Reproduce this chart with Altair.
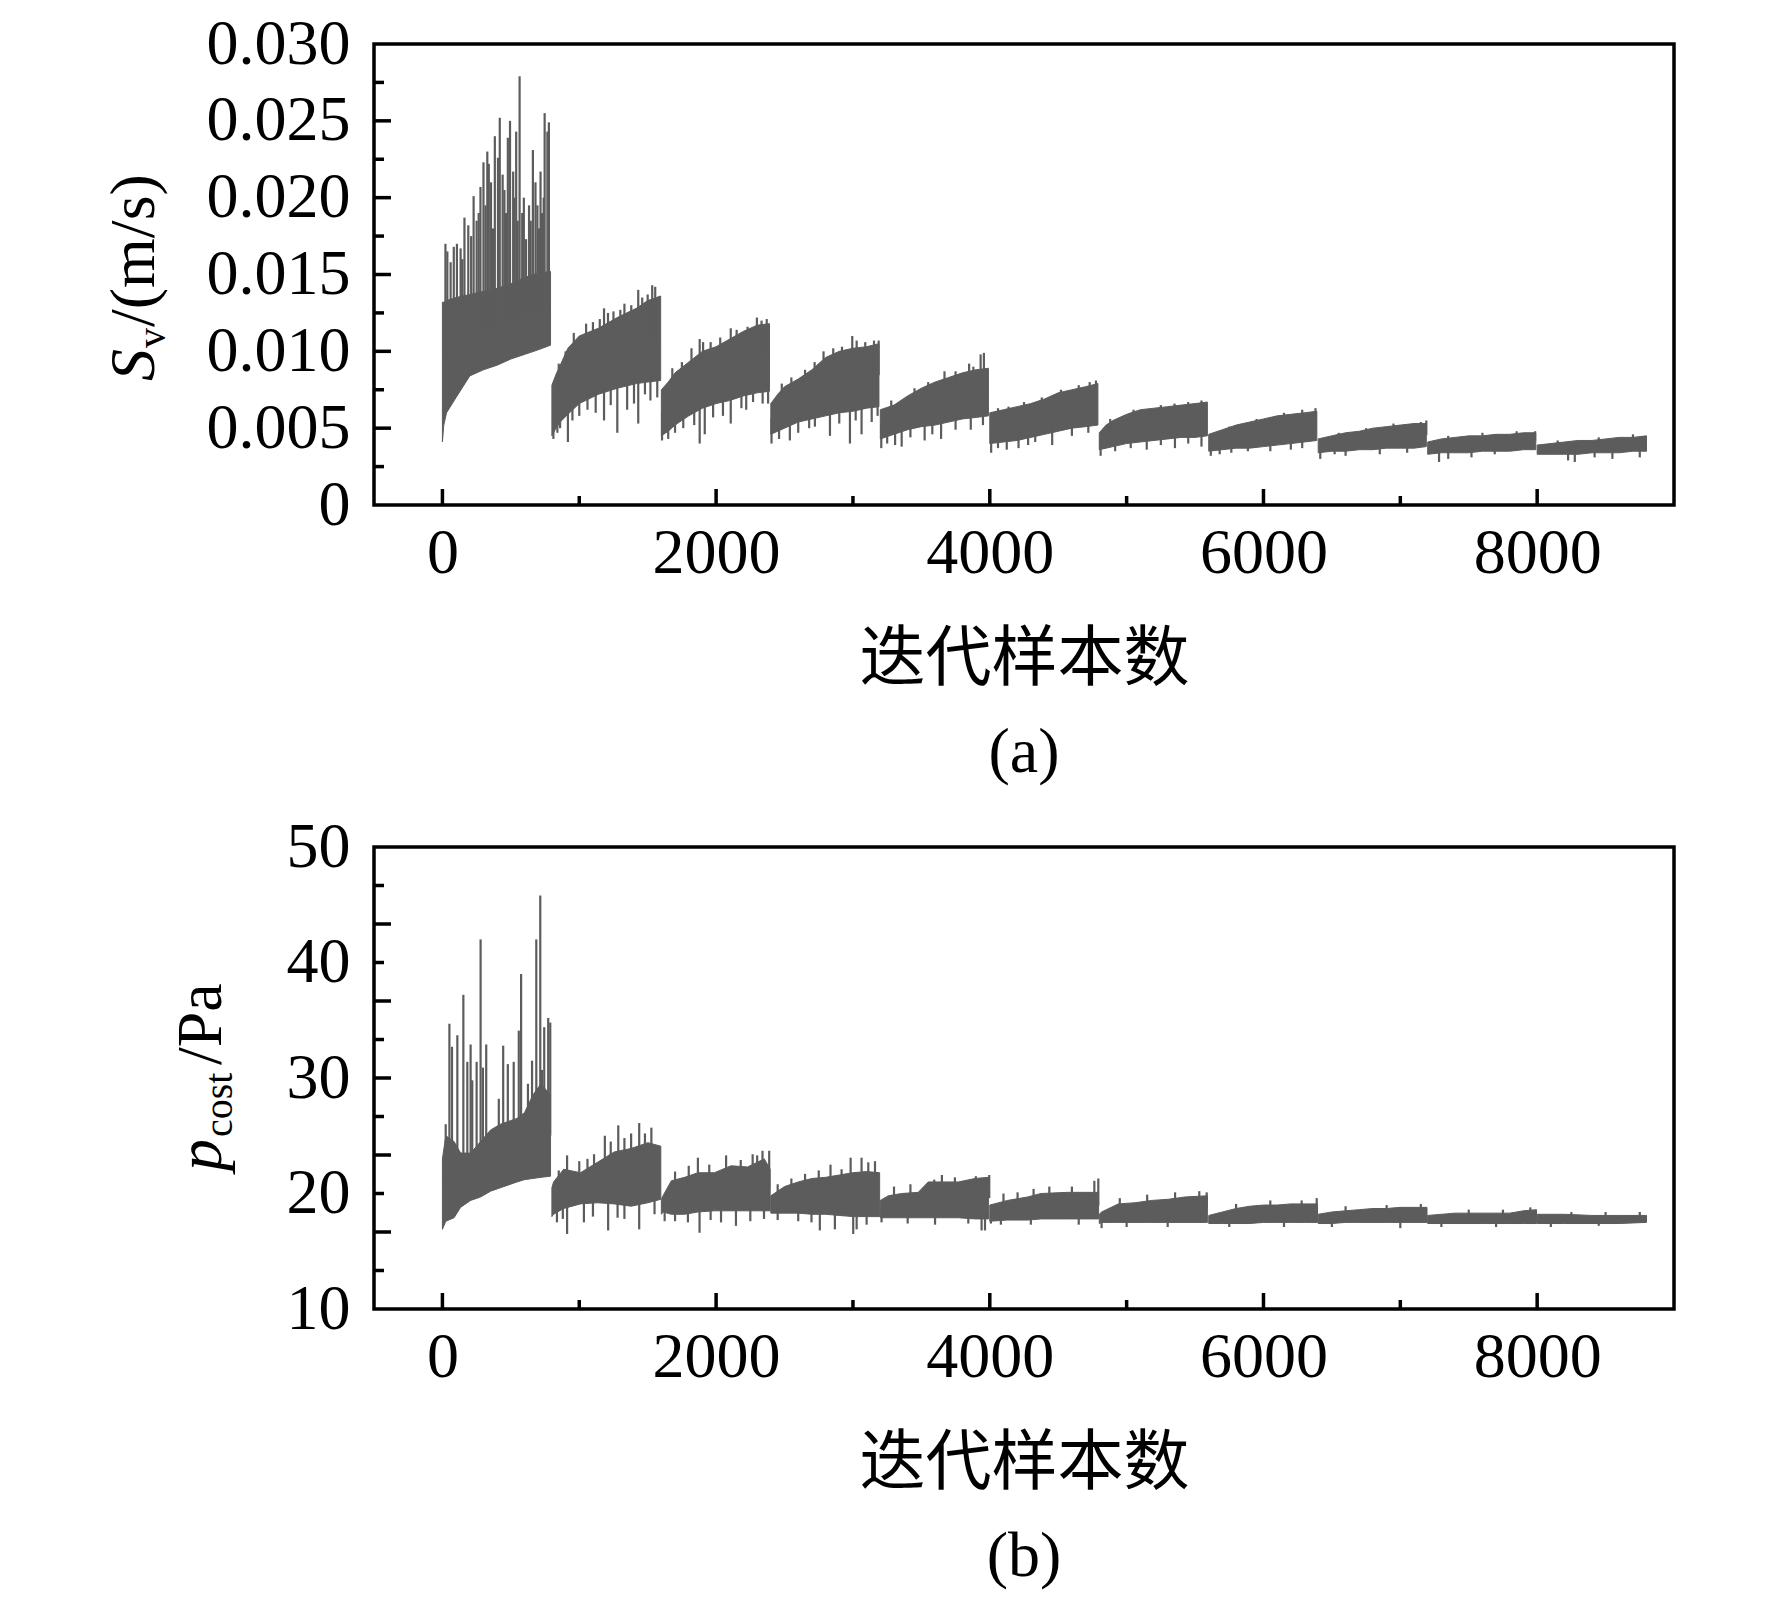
import altair as alt
import numpy as np
import pandas as pd

GRAY = "#5c5c5c"
SERIF = "Liberation Serif"
CJK = "Noto Sans CJK SC"
X_TITLE = "迭代样本数"

# ---------------- panel (a): S_v (m/s) ----------------
A_BAND_X = [0, 10, 30, 100, 200, 300, 400, 500, 600, 700, 790,
            800, 830, 861, 917, 1000, 1139, 1278, 1417, 1500, 1595,
            1600, 1650, 1700, 1800, 1900, 2000, 2100, 2200, 2300, 2390,
            2400, 2450, 2500, 2600, 2700, 2800, 2900, 3000, 3100, 3190,
            3200, 3300, 3400, 3500, 3600, 3700, 3800, 3900, 3990,
            4000, 4100, 4200, 4300, 4400, 4500, 4600, 4700, 4790,
            4800, 4850, 4900, 5000, 5100, 5200, 5300, 5400, 5500, 5590,
            5600, 5700, 5800, 5900, 6000, 6100, 6200, 6300, 6390,
            6400, 6500, 6600, 6700, 6800, 6900, 7000, 7100, 7190,
            7200, 7300, 7400, 7500, 7600, 7700, 7800, 7900, 7990,
            8000, 8100, 8200, 8300, 8400, 8500, 8600, 8700, 8799]
A_BAND_LO = [0.0041, 0.0052, 0.0060, 0.0070, 0.0084, 0.0088, 0.0091, 0.0095, 0.0098, 0.0101, 0.0104,
             0.0045, 0.0050, 0.0054, 0.0059, 0.0066, 0.0072, 0.0076, 0.0079, 0.0080, 0.0081,
             0.0045, 0.0048, 0.0052, 0.0058, 0.0063, 0.0066, 0.0068, 0.0071, 0.0073, 0.0074,
             0.0046, 0.0048, 0.0050, 0.0054, 0.0056, 0.0058, 0.0060, 0.0061, 0.0063, 0.0064,
             0.0043, 0.0046, 0.0049, 0.0051, 0.0052, 0.0054, 0.0056, 0.0057, 0.0058,
             0.0040, 0.0041, 0.0042, 0.0044, 0.0046, 0.0048, 0.0050, 0.0051, 0.0052,
             0.0036, 0.0037, 0.0038, 0.0040, 0.0041, 0.0042, 0.0043, 0.0044, 0.0044, 0.0045,
             0.0035, 0.0036, 0.0037, 0.0037, 0.0038, 0.0039, 0.0040, 0.0041, 0.0042,
             0.0034, 0.0035, 0.0035, 0.0036, 0.0036, 0.0037, 0.0037, 0.0037, 0.0038,
             0.0033, 0.0034, 0.0034, 0.0034, 0.0035, 0.0035, 0.0035, 0.0036, 0.0036,
             0.0033, 0.0033, 0.0033, 0.0033, 0.0034, 0.0034, 0.0034, 0.0035, 0.0035]
A_BAND_HI = [0.0132, 0.0132, 0.0133, 0.0135, 0.0137, 0.0139, 0.0141, 0.0144, 0.0148, 0.0151, 0.0152,
             0.0078, 0.0085, 0.0091, 0.0102, 0.0110, 0.0115, 0.0122, 0.0128, 0.0133, 0.0136,
             0.0075, 0.0080, 0.0086, 0.0093, 0.0100, 0.0103, 0.0108, 0.0113, 0.0117, 0.0118,
             0.0066, 0.0072, 0.0077, 0.0082, 0.0088, 0.0096, 0.0100, 0.0102, 0.0103, 0.0105,
             0.0062, 0.0065, 0.0071, 0.0076, 0.0080, 0.0083, 0.0086, 0.0088, 0.0089,
             0.0060, 0.0062, 0.0064, 0.0066, 0.0069, 0.0073, 0.0075, 0.0077, 0.0079,
             0.0047, 0.0052, 0.0055, 0.0059, 0.0062, 0.0063, 0.0064, 0.0065, 0.0066, 0.0067,
             0.0046, 0.0049, 0.0052, 0.0054, 0.0056, 0.0058, 0.0059, 0.0060, 0.0061,
             0.0043, 0.0045, 0.0047, 0.0048, 0.0050, 0.0051, 0.0052, 0.0053, 0.0053,
             0.0041, 0.0043, 0.0044, 0.0045, 0.0045, 0.0046, 0.0046, 0.0047, 0.0047,
             0.0039, 0.0040, 0.0041, 0.0042, 0.0042, 0.0043, 0.0044, 0.0044, 0.0045]

# upward spikes (sample index, peak value)
A_UP_X = [22, 36, 60, 83, 106, 133, 145, 161, 189, 210, 228, 250, 265, 278, 300, 315, 328, 339,
          355, 370, 383, 406, 419, 440, 453, 465, 478, 494, 517, 525, 539, 550, 564, 583, 595,
          611, 633, 645, 661, 680, 694, 705, 717, 728, 740, 747, 767, 778,
          850, 900, 960, 1050, 1100, 1150, 1181, 1210, 1250, 1300, 1330, 1380, 1431, 1460, 1500, 1533, 1555,
          1680, 1750, 1820, 1880, 1905, 1960, 2030, 2107, 2150, 2230, 2298, 2332, 2370,
          2480, 2550, 2650, 2720, 2785, 2856, 2920, 2995, 3027, 3090, 3154, 3188,
          3280, 3450, 3550, 3669, 3750, 3849, 3880, 3933, 3957,
          4060, 4137, 4250, 4380, 4520, 4650, 4730, 4776,
          4880, 5050, 5250, 5350, 5450, 5547,
          5750, 5950, 6150, 6283, 6380,
          6550, 6750, 6950, 7150, 7190,
          7350, 7600, 7850, 7985,
          8150, 8450, 8700]
A_UP_Y = [0.0170, 0.0165, 0.0158, 0.0168, 0.0170, 0.0167, 0.0160, 0.0187, 0.0182, 0.0175, 0.0201,
          0.0185, 0.0190, 0.0207, 0.0223, 0.0195, 0.0230, 0.0222, 0.0210, 0.0180, 0.0240, 0.0226,
          0.0252, 0.0215, 0.0205, 0.0190, 0.0239, 0.0250, 0.0217, 0.0200, 0.0243, 0.0185, 0.0279,
          0.0190, 0.0200, 0.0173, 0.0195, 0.0185, 0.0231, 0.0210, 0.0195, 0.0180, 0.0217, 0.0190,
          0.0200, 0.0255, 0.0243, 0.0249,
          0.0092, 0.0100, 0.0112, 0.0118, 0.0119, 0.0121, 0.0128, 0.0125, 0.0126, 0.0127, 0.0131,
          0.0130, 0.0140, 0.0135, 0.0137, 0.0143, 0.0142,
          0.0089, 0.0093, 0.0102, 0.0108, 0.0106, 0.0106, 0.0109, 0.0115, 0.0114, 0.0116, 0.0122,
          0.0120, 0.0121,
          0.0079, 0.0083, 0.0088, 0.0093, 0.0100, 0.0102, 0.0103, 0.0110, 0.0107, 0.0106, 0.0107, 0.0107,
          0.0068, 0.0076, 0.0080, 0.0087, 0.0087, 0.0092, 0.0090, 0.0098, 0.0099,
          0.0063, 0.0064, 0.0067, 0.0070, 0.0075, 0.0078, 0.0080, 0.0081,
          0.0056, 0.0062, 0.0065, 0.0066, 0.0067, 0.0068,
          0.0051, 0.0056, 0.0060, 0.0062, 0.0063,
          0.0047, 0.0050, 0.0053, 0.0054, 0.0055,
          0.0045, 0.0047, 0.0048, 0.0048,
          0.0042, 0.0044, 0.0046]
# downward spikes (sample index, dip value)
A_DN_X = [811, 840, 860, 917, 950, 1000, 1060, 1120, 1181, 1230, 1278, 1350, 1400, 1431, 1480, 1520, 1570,
          1605, 1650, 1700, 1760, 1840, 1880, 1917, 1978, 2050, 2107, 2185, 2220, 2270, 2340, 2380,
          2405, 2460, 2539, 2600, 2680, 2722, 2832, 2900, 2978, 3020, 3063, 3137, 3180,
          3207, 3250, 3308, 3356, 3420, 3524, 3580, 3644, 3750, 3861, 3950,
          4010, 4060, 4124, 4210, 4280, 4332, 4456, 4600, 4720,
          4810, 4916, 5030, 5147, 5250, 5353, 5450, 5547,
          5615, 5680, 5765, 5886, 6050, 6200, 6283,
          6415, 6520, 6600, 6850, 7050,
          7283, 7350, 7520, 7690,
          8226, 8275, 8420, 8550, 8750]
A_DN_Y = [0.0043, 0.0047, 0.0050, 0.0041, 0.0055, 0.0058, 0.0062, 0.0060, 0.0055, 0.0065, 0.0047,
          0.0062, 0.0066, 0.0053, 0.0072, 0.0068, 0.0070,
          0.0042, 0.0043, 0.0047, 0.0050, 0.0052, 0.0040, 0.0046, 0.0057, 0.0058, 0.0053, 0.0063,
          0.0062, 0.0067, 0.0066, 0.0066,
          0.0040, 0.0043, 0.0042, 0.0047, 0.0050, 0.0051, 0.0045, 0.0053, 0.0040, 0.0055, 0.0046,
          0.0054, 0.0058,
          0.0037, 0.0040, 0.0039, 0.0038, 0.0044, 0.0042, 0.0046, 0.0043, 0.0049, 0.0049, 0.0052,
          0.0034, 0.0037, 0.0036, 0.0037, 0.0039, 0.0041, 0.0039, 0.0045, 0.0047,
          0.0032, 0.0035, 0.0037, 0.0036, 0.0039, 0.0037, 0.0040, 0.0038,
          0.0032, 0.0033, 0.0034, 0.0035, 0.0035, 0.0036, 0.0037,
          0.0030, 0.0033, 0.0032, 0.0033, 0.0034,
          0.0028, 0.0030, 0.0031, 0.0033,
          0.0029, 0.0028, 0.0031, 0.0030, 0.0031]

# ---------------- panel (b): p_cost (Pa) ----------------
B_BAND_X = [0, 25, 85, 133, 206, 279, 352, 424, 545, 600, 660, 720, 790,
            800, 812, 886, 1009, 1133, 1256, 1379, 1502, 1596,
            1600, 1612, 1673, 1770, 1867, 1988, 2109, 2230, 2352, 2395,
            2400, 2500, 2600, 2700, 2800, 2900, 3000, 3100, 3195,
            3200, 3258, 3355, 3477, 3550, 3648, 3770, 3892, 3990,
            4000, 4130, 4276, 4374, 4569, 4764, 4795,
            4800, 4817, 4939, 5061, 5183, 5305, 5427, 5590,
            5600, 5700, 5800, 5900, 6000, 6100, 6200, 6300, 6395,
            6400, 6500, 6600, 6700, 6800, 6900, 7000, 7100, 7195,
            7200, 7400, 7600, 7800, 7900, 7995,
            8000, 8200, 8400, 8600, 8799]
B_BAND_LO = [16.9, 17.6, 17.9, 18.8, 19.4, 19.7, 20.2, 20.5, 21.0, 21.2, 21.3, 21.4, 21.5,
             18.0, 18.2, 18.7, 19.1, 19.2, 19.1, 18.9, 19.2, 19.5,
             18.2, 18.4, 18.2, 18.2, 18.4, 18.5, 18.5, 18.5, 18.5, 18.5,
             18.3, 18.3, 18.3, 18.2, 18.2, 18.1, 18.0, 18.0, 18.0,
             17.9, 17.9, 17.9, 17.9, 17.9, 17.9, 17.9, 17.8, 17.8,
             17.6, 17.7, 17.7, 17.8, 17.8, 17.8, 17.8,
             17.4, 17.5, 17.5, 17.5, 17.5, 17.5, 17.5, 17.5,
             17.4, 17.4, 17.4, 17.4, 17.5, 17.5, 17.5, 17.5, 17.5,
             17.4, 17.4, 17.5, 17.5, 17.5, 17.5, 17.5, 17.5, 17.5,
             17.4, 17.4, 17.4, 17.4, 17.4, 17.4,
             17.4, 17.4, 17.4, 17.4, 17.5]
B_BAND_HI = [23.0, 25.0, 24.5, 23.5, 23.5, 24.5, 25.5, 26.0, 26.5, 27.0, 28.5, 29.5, 28.5,
             20.5, 21.0, 22.1, 21.8, 22.7, 23.6, 23.9, 24.4, 24.1,
             19.5, 19.8, 21.1, 21.4, 21.8, 21.8, 22.4, 22.3, 23.0, 22.1,
             19.8, 20.6, 21.0, 21.3, 21.4, 21.6, 21.8, 21.9, 21.8,
             19.4, 19.8, 20.0, 20.1, 21.0, 21.0, 21.0, 21.3, 21.4,
             19.0, 19.4, 19.7, 20.0, 20.1, 20.1, 20.1,
             18.2, 18.4, 19.1, 19.2, 19.4, 19.5, 19.7, 19.8,
             18.1, 18.4, 18.7, 18.9, 19.0, 19.0, 19.1, 19.1, 19.1,
             18.2, 18.4, 18.5, 18.6, 18.7, 18.7, 18.8, 18.8, 18.8,
             18.1, 18.3, 18.3, 18.3, 18.5, 18.6,
             18.2, 18.2, 18.1, 18.1, 18.1]

B_UP_X = [24, 51, 70, 109, 153, 182, 206, 218, 250, 279, 296, 320, 376, 412, 444, 478, 521, 558,
          575, 625, 655, 686, 715, 727, 744, 773, 788,
          850, 911, 1000, 1060, 1108, 1187, 1230, 1285, 1330, 1379, 1438, 1480, 1527,
          1700, 1800, 1867, 1950, 2073, 2180, 2267, 2300, 2339, 2388,
          2450, 2550, 2650, 2750, 2836, 2917, 2983, 3063, 3112, 3161,
          3300, 3420, 3594, 3650, 3745, 3898, 3996,
          4100, 4203, 4320, 4435, 4600, 4764, 4793,
          4950, 5150, 5354, 5531, 5585,
          5800, 6050, 6279, 6389,
          6600, 6900, 7150,
          7500, 7750, 7950,
          8250, 8500, 8750]
B_UP_Y = [26.0, 34.7, 32.7, 33.7, 37.2, 31.4, 32.9, 29.8, 31.4, 42.0, 30.9, 32.9, 25.3, 28.2, 32.8,
          31.2, 31.4, 34.1, 39.0, 29.5, 31.5, 42.0, 45.8, 30.7, 34.4, 35.2, 34.8,
          22.0, 23.3, 22.8, 23.0, 23.4, 25.0, 24.5, 25.9, 24.8, 25.2, 26.1, 25.2, 25.7,
          21.9, 22.4, 23.1, 22.5, 23.3, 22.9, 23.4, 23.3, 23.7, 23.7,
          20.8, 21.3, 21.7, 22.0, 22.5, 22.1, 23.1, 23.1, 22.7, 22.8,
          20.6, 20.8, 21.2, 21.6, 21.4, 21.5, 21.6,
          20.0, 20.1, 20.4, 20.6, 20.6, 21.1, 21.3,
          19.6, 19.9, 20.1, 20.2, 20.1,
          19.1, 19.4, 19.4, 19.6,
          18.9, 19.0, 19.1,
          18.6, 18.6, 18.8,
          18.4, 18.4, 18.4]
B_DN_X = [837, 880, 911, 1034, 1100, 1211, 1280, 1330, 1438, 1550,
          1624, 1700, 1794, 1879, 1960, 2036, 2145, 2250, 2350,
          2450, 2600, 2697, 2758, 2868, 3002, 3027, 3100,
          3209, 3400, 3600, 3843, 3940, 3965,
          4008, 4081, 4300, 4650,
          4817, 5000, 5300,
          5750, 6150,
          6500, 7000, 7300, 7700, 8100, 8450]
B_DN_Y = [17.5, 17.8, 16.5, 17.5, 18.0, 16.8, 17.9, 17.8, 16.9, 18.2,
          17.6, 17.6, 17.5, 16.6, 17.7, 17.5, 17.2, 17.6, 17.8,
          17.7, 17.6, 17.5, 16.8, 16.9, 16.5, 16.9, 17.3,
          17.5, 17.4, 17.3, 17.4, 16.8, 16.8,
          17.4, 17.3, 17.3, 17.3,
          17.0, 17.1, 17.1,
          17.1, 17.1,
          17.1, 17.0, 17.1, 17.1, 17.1, 17.2]

# ---------------- axes ----------------
X_DOMAIN = [-500, 9000]
X_LABELS = [0, 2000, 4000, 6000, 8000]
X_MINOR = [1000, 3000, 5000, 7000]
A_DOMAIN = [0, 0.03]
A_LABELS = [0, 0.005, 0.010, 0.015, 0.020, 0.025, 0.030]
A_MAJOR = [0.005, 0.010, 0.015, 0.020, 0.025]
A_MINOR = [0.0025, 0.0075, 0.0125, 0.0175, 0.0225, 0.0275]
B_DOMAIN = [10, 50]
B_LABELS = [10, 20, 30, 40, 50]
B_MAJOR = [16.667, 23.333, 30, 36.667, 43.333]
B_MINOR = [13.333, 20, 26.667, 33.333, 40, 46.667]

W = 1300
HA = 461
HB = 462
LABEL_FS = 64
TITLE_FS = 64
SUB_FS = 40
TAG_OFFSET = 248


def seg_of(x):
    return min(int(x // 800), 10)


def band_frame(xs, lo, hi):
    assert len(xs) == len(lo) == len(hi)
    df = pd.DataFrame({"x": xs, "lo": lo, "hi": hi})
    df["seg"] = df["x"].apply(seg_of)
    return df


def spike_frame(xs, tips, band):
    assert len(xs) == len(tips)
    bases = []
    for x in xs:
        b = band[band["seg"] == seg_of(x)]
        mid = (b["lo"] + b["hi"]) / 2
        bases.append(float(np.interp(x, b["x"], mid)))
    return pd.DataFrame({"x": xs, "tip": tips, "base": bases})


def panel(band, up, dn, ydomain, ylabels, ylabel_expr, ymajor, yminor, H, title_parts, tag):
    xs = alt.Scale(domain=X_DOMAIN, nice=False, zero=False)
    ys = alt.Scale(domain=ydomain, nice=False, zero=False)
    x_axis = alt.Axis(values=X_LABELS, format="d", ticks=False, domain=False, grid=False,
                      labelFont=SERIF, labelFontSize=LABEL_FS, labelColor="black",
                      labelPadding=16, labelFlush=False, labelOverlap=False,
                      title=X_TITLE, titleFont=CJK, titleFontSize=66, titleFontWeight="normal",
                      titleColor="black", titlePadding=42)
    y_axis = alt.Axis(values=ylabels, labelExpr=ylabel_expr, ticks=False, domain=False, grid=False,
                      labelFont=SERIF, labelFontSize=LABEL_FS, labelColor="black",
                      labelPadding=24, labelFlush=False, labelOverlap=False, labelBaseline="middle",
                      title=None)
    area = alt.Chart(band).mark_area(color=GRAY, opacity=1, stroke=GRAY, strokeWidth=1).encode(
        x=alt.X("x:Q", scale=xs, axis=x_axis, title=X_TITLE),
        y=alt.Y("lo:Q", scale=ys, axis=y_axis, title=None),
        y2="hi:Q",
        detail="seg:N",
    )
    layers = [area]
    for df in (up, dn):
        layers.append(alt.Chart(df).mark_rule(color=GRAY, strokeWidth=2.2).encode(
            x=alt.X("x:Q", scale=xs, axis=x_axis, title=X_TITLE),
            y=alt.Y("tip:Q", scale=ys, axis=y_axis, title=None),
            y2="base:Q",
        ))
    # inward ticks
    for vals, ln in ((X_LABELS, 16), (X_MINOR, 9)):
        layers.append(alt.Chart(pd.DataFrame({"v": vals})).mark_rule(color="black", strokeWidth=3.5).encode(
            x=alt.X("v:Q", scale=xs, axis=x_axis, title=X_TITLE),
            y=alt.value(H), y2=alt.value(H - ln)))
    for vals, ln in ((ymajor, 17), (yminor, 10)):
        layers.append(alt.Chart(pd.DataFrame({"v": vals})).mark_rule(color="black", strokeWidth=3.5).encode(
            y=alt.Y("v:Q", scale=ys, axis=y_axis, title=None),
            x=alt.value(0), x2=alt.value(ln)))
    # y title pieces
    for text, fs, style, px, py in title_parts:
        layers.append(alt.Chart(pd.DataFrame({"t": [text]})).mark_text(
            font=SERIF, fontSize=fs, fontStyle=style, angle=270, align="left",
            baseline="alphabetic", color="black").encode(
            x=alt.value(px), y=alt.value(py), text="t:N"))
    # panel tag
    layers.append(alt.Chart(pd.DataFrame({"t": [tag]})).mark_text(
        font=SERIF, fontSize=LABEL_FS, align="center", baseline="middle", color="black").encode(
        x=alt.value(W / 2), y=alt.value(H + TAG_OFFSET), text="t:N"))
    return alt.layer(*layers).properties(width=W, height=H)


band_a = band_frame(A_BAND_X, A_BAND_LO, A_BAND_HI)
band_b = band_frame(B_BAND_X, B_BAND_LO, B_BAND_HI)
up_a = spike_frame(A_UP_X, A_UP_Y, band_a)
dn_a = spike_frame(A_DN_X, A_DN_Y, band_a)
up_b = spike_frame(B_UP_X, B_UP_Y, band_b)
dn_b = spike_frame(B_DN_X, B_DN_Y, band_b)

title_a = [("S", TITLE_FS, "italic", -220, 337),
           ("v", SUB_FS, "normal", -209, 304),
           ("/(m/s)", TITLE_FS, "normal", -220, 283)]
title_b = [("p", TITLE_FS, "italic", -153, 324),
           ("cost", SUB_FS, "normal", -142, 290),
           ("/Pa", TITLE_FS, "normal", -153, 218)]

chart_a = panel(band_a, up_a, dn_a, A_DOMAIN, A_LABELS,
                "datum.value == 0 ? '0' : format(datum.value, '.3f')",
                A_MAJOR, A_MINOR, HA, title_a, "(a)")
chart_b = panel(band_b, up_b, dn_b, B_DOMAIN, B_LABELS,
                "format(datum.value, 'd')",
                B_MAJOR, B_MINOR, HB, title_b, "(b)")

chart = alt.vconcat(chart_a, chart_b, spacing=26).properties(
    padding={"left": 93, "top": 2, "right": 10, "bottom": 4},
    background="white",
).configure_view(stroke="black", strokeWidth=3.5)

chart.save("out.html", embed_options={"renderer": "svg", "actions": False})
